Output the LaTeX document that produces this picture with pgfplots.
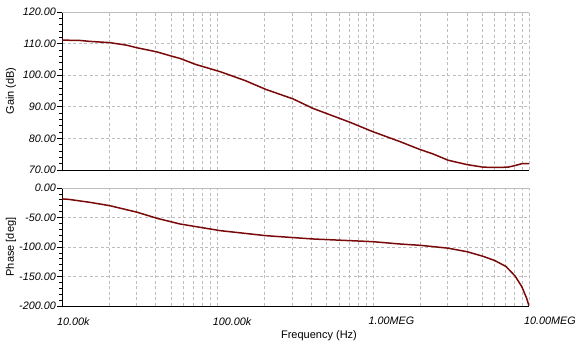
\documentclass[border=0pt]{standalone}
\usepackage{fontspec}
\setmainfont{Liberation Sans}
\usepackage{pgfplots}
\pgfplotsset{compat=1.18}
\definecolor{curve}{HTML}{7A0A0A}
\definecolor{gridc}{HTML}{BDBDBD}
\begin{document}
\begin{tikzpicture}[x=1pt,y=1pt]
\path[use as bounding box] (0,0) rectangle (576,353);
% Gain
\begin{axis}[
  scale only axis,
  width=467pt,
  xmode=log,
  xmin=1e4, xmax=1e7,
  axis lines=left,
  axis line style={-, black, line width=0.9pt},
  xtick={1e4,1e5,1e6,1e7},
  xmajorgrids=true, xminorgrids=true, ymajorgrids=true,
  major grid style={gridc, dash pattern=on 3pt off 2.5pt, line width=0.6pt},
  minor grid style={gridc, dash pattern=on 3pt off 2.5pt, line width=0.6pt},
  x tick style={draw=none},
  y tick style={black, line width=0.6pt},
  tick align=outside,
  major tick length=5pt,
  minor tick length=3pt,
  minor y tick num=4,
  tick label style={font=\fontsize{10.8}{13}\selectfont\itshape},
  /pgf/number format/assume math mode=true,
  yticklabel style={inner sep=1pt},
  at={(62pt,183pt)}, anchor=south west,
  height=158pt,
  ymin=70, ymax=120,
  ytick={70,80,90,100,110,120},
  yticklabels={70.00,80.00,90.00,100.00,110.00,120.00},
  xticklabels={},
]
\addplot[curve, line width=1.5pt] coordinates {
(10000,111.1) (13000,111.0) (15100,110.7) (20300,110.3) (26000,109.5)
(30200,108.7) (40500,107.4) (50000,106.1) (57300,105.3) (72300,103.4)
(104000,101.1) (150000,98.3) (204000,95.5) (305000,92.5) (409000,89.5)
(708000,85.1) (995000,82.1) (1480000,79.0) (1990000,76.5) (2410000,75.1)
(3020000,73.1) (4000000,71.7) (5070000,70.9) (6000000,70.8) (7330000,70.9)
(8130000,71.4) (9000000,72.0) (10000000,72.0)
};
\draw[gridc, line width=0.9pt] (rel axis cs:0,1) -- (rel axis cs:1,1) -- (rel axis cs:1,0);
\end{axis}
\node[rotate=90, font=\fontsize{11}{13}\selectfont] at (11,262) {Gain (dB)};
% Phase
\begin{axis}[
  scale only axis,
  width=467pt,
  xmode=log,
  xmin=1e4, xmax=1e7,
  axis lines=left,
  axis line style={-, black, line width=0.9pt},
  xtick={1e4,1e5,1e6,1e7},
  xmajorgrids=true, xminorgrids=true, ymajorgrids=true,
  major grid style={gridc, dash pattern=on 3pt off 2.5pt, line width=0.6pt},
  minor grid style={gridc, dash pattern=on 3pt off 2.5pt, line width=0.6pt},
  x tick style={draw=none},
  y tick style={black, line width=0.6pt},
  tick align=outside,
  major tick length=5pt,
  minor tick length=3pt,
  minor y tick num=4,
  tick label style={font=\fontsize{10.8}{13}\selectfont\itshape},
  /pgf/number format/assume math mode=true,
  yticklabel style={inner sep=1pt},
  at={(62pt,47pt)}, anchor=south west,
  height=118pt,
  ymin=-200, ymax=0,
  ytick={-200,-150,-100,-50,0},
  yticklabels={-200.00,-150.00,-100.00,-50.00,0.00},
  xticklabels={10.00k,100.00k,1.00MEG,10.00MEG},
  xticklabel style={anchor=north west, inner sep=0pt, xshift=-5pt, yshift=-6pt},
]
\addplot[curve, line width=1.5pt] coordinates {
(10000,-18.5) (11000,-19.2) (15100,-24.3) (20300,-30) (30300,-41) (40800,-51.4)
(57300,-61) (76900,-66.6) (104000,-72.3) (204000,-80.8) (409000,-86.4)
(995000,-91) (1480000,-94.9) (2010000,-97.2) (3020000,-102) (4000000,-108)
(5070000,-115.8) (6030000,-123) (7110000,-133) (8130000,-149) (8980000,-167)
(9660000,-187) (10000000,-200)
};
\draw[gridc, line width=0.9pt] (rel axis cs:0,1) -- (rel axis cs:1,1) -- (rel axis cs:1,0);
\end{axis}
\node[rotate=90, font=\fontsize{11}{13}\selectfont] at (11,106) {Phase [deg]};
\node[font=\fontsize{11}{13}\selectfont] at (319,17) {Frequency (Hz)};
\end{tikzpicture}
\end{document}
